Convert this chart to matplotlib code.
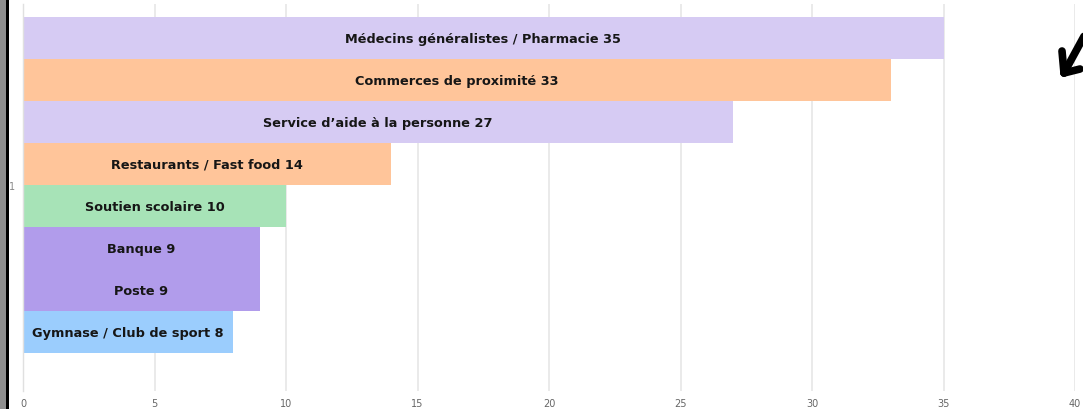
import matplotlib
matplotlib.use('Agg')
import matplotlib.pyplot as plt
import matplotlib.patches as patches
import matplotlib.lines as mlines

# data
labels = ['Médecins généralistes / Pharmacie', 'Commerces de proximité',
          'Service d\u2019aide à la personne', 'Restaurants / Fast food',
          'Soutien scolaire', 'Banque', 'Poste', 'Gymnase / Club de sport']
values = [35, 33, 27, 14, 10, 9, 9, 8]
colors = ['#d6cbf3', '#ffc59a', '#d6cbf3', '#ffc59a',
          '#a7e3b7', '#b19ceb', '#b19ceb', '#9bcdfd']
xticks = [0, 5, 10, 15, 20, 25, 30, 35, 40]

W, H = 1083, 410
fig = plt.figure(figsize=(W/100, H/100), dpi=100)
# axes placed in pixel coords: x 23..1075, y 5..392 (from top)
ax = fig.add_axes([23/W, 1-392/H, (1075-23)/W, (392-5)/H])

pos = list(range(len(values)))
ax.barh(pos, values, height=1.0, color=colors, edgecolor='none', zorder=2)
for p, lab, v in zip(pos, labels, values):
    ax.text(v/2, p, '%s %d' % (lab, v), ha='center', va='center',
            fontsize=9.3, fontweight='bold', color='#161616', zorder=3)

ax.set_xlim(0, 40)
ax.set_ylim(8.4, -0.81)
ax.set_xticks(xticks)
ax.set_xticklabels([str(t) for t in xticks], fontsize=7, color='#666666')
ax.set_yticks([3.5])
ax.set_yticklabels(['1'], fontsize=7, color='#888888')
ax.tick_params(axis='x', length=0, pad=5)
ax.tick_params(axis='y', length=0, pad=6)
ax.grid(axis='x', color='#e6e6e6', linewidth=1.2, zorder=0)
for s in ['top', 'right', 'bottom']:
    ax.spines[s].set_visible(False)
ax.spines['left'].set_color('#e0e0e0')
ax.spines['left'].set_linewidth(1.0)

# left border strip
fig.patches.append(patches.Rectangle((0, 0), 6/W, 1, transform=fig.transFigure,
                                     facecolor='#8f8f8f', edgecolor='none'))
fig.patches.append(patches.Rectangle((6/W, 0), 2.5/W, 1, transform=fig.transFigure,
                                     facecolor='#000000', edgecolor='none'))

# black hand drawn arrow at top right
def px(x, y):
    return x/W, 1-y/H
strokes = [[(1088, 30), (1064, 74)], [(1062, 52), (1064, 74)], [(1064, 74), (1080, 70)]]
for (a, b) in strokes:
    xa, ya = px(*a)
    xb, yb = px(*b)
    fig.lines.append(mlines.Line2D([xa, xb], [ya, yb], transform=fig.transFigure,
                                   color='black', linewidth=5.5, solid_capstyle='round'))

fig.savefig('out.png', dpi=100)
